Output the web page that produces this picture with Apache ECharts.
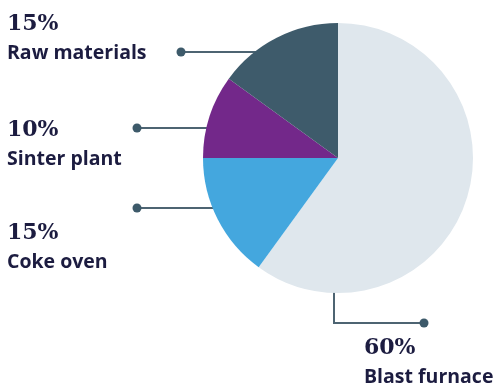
<!DOCTYPE html>
<html>
<head>
<meta charset="utf-8">
<script src="https://cdn.jsdelivr.net/npm/echarts@6/dist/echarts.min.js"></script>
<style>
  html, body { margin: 0; padding: 0; background: #fff; }
  #ch1 { width: 497px; height: 385px; }
</style>
</head>
<body>
<div id="ch1"></div>
<script>
const categories = ['Blast furnace', 'Coke oven', 'Sinter plant', 'Raw materials']
const shares = [60, 15, 10, 15]
const colors = ['#dfe7ed', '#44a7de', '#73288a', '#3e5b6b']

// where each label block sits and how its leader line runs
const labelPos = [
  { x: 364, y: 333, line: [[334, 288], [334, 323], [424, 323]] },
  { x: 7, y: 218, line: [[216, 208], [176, 208], [137, 208]] },
  { x: 7, y: 115, line: [[208, 128], [172, 128], [137, 128]] },
  { x: 7, y: 9, line: [[256, 52], [218, 52], [181, 52]] }
]

const cht1 = echarts.init(document.getElementById('ch1'))

const dots = labelPos.map(function (p) {
  const end = p.line[p.line.length - 1]
  return {
    type: 'circle',
    shape: { cx: end[0], cy: end[1], r: 4.5 },
    style: { fill: '#3d5a6a' },
    z: 100
  }
})

const options1 = {
  animation: false,
  backgroundColor: '#fff',
  color: colors,
  graphic: dots,
  series: [
    {
      type: 'pie',
      center: [338, 158],
      radius: 135,
      startAngle: 90,
      clockwise: true,
      data: categories.map(function (c, i) {
        return { name: c, value: shares[i] }
      }),
      label: {
        show: true,
        position: 'outside',
        overflow: 'none',
        formatter: function (p) {
          return '{pct|' + p.value + '%}\n{name|' + p.name + '}'
        },
        rich: {
          pct: {
            fontFamily: 'DejaVu Serif',
            fontWeight: 'bold',
            fontSize: 22,
            lineHeight: 30,
            color: '#1c1c40'
          },
          name: {
            fontFamily: 'Open Sans',
            fontWeight: 'bold',
            fontSize: 19.5,
            lineHeight: 28,
            color: '#1c1c40'
          }
        }
      },
      labelLine: {
        show: true,
        lineStyle: { color: '#4d6472', width: 2 }
      },
      labelLayout: function (params) {
        const p = labelPos[params.dataIndex]
        return {
          x: p.x,
          y: p.y,
          align: 'left',
          verticalAlign: 'top',
          labelLinePoints: p.line
        }
      },
      emphasis: { disabled: true }
    }
  ]
}
cht1.setOption(options1)
</script>
</body>
</html>
